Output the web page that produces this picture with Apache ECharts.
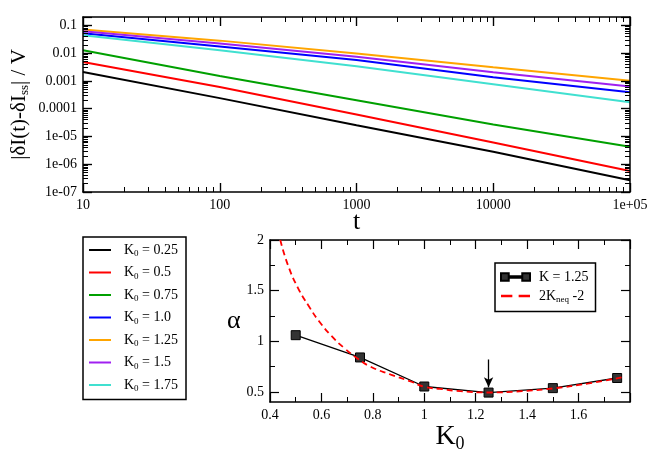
<!DOCTYPE html>
<html>
<head>
<meta charset="utf-8">
<script src="https://cdn.jsdelivr.net/npm/echarts@6/dist/echarts.min.js"></script>
<style>
html, body { margin: 0; padding: 0; background: #fff; }
#chart { width: 652px; height: 456px; }
</style>
</head>
<body>
<div id="chart"></div>
<script>
// top panel: |dI(t)-dI_ss| / V against t, one curve per K0
var times = [10, 100, 1000, 10000, 100000];
var curveK025 = [2.09e-3, 2.40e-4, 2.51e-5, 2.82e-6, 2.63e-7];
var curveK05  = [4.79e-3, 6.03e-4, 6.17e-5, 6.03e-6, 5.75e-7];
var curveK075 = [1.26e-2, 1.51e-3, 2.00e-4, 2.69e-5, 4.27e-6];
var curveK10  = [5.25e-2, 1.74e-2, 5.62e-3, 1.35e-3, 3.89e-4];
var curveK125 = [7.08e-2, 2.82e-2, 9.77e-3, 3.09e-3, 1.02e-3];
var curveK15  = [6.17e-2, 2.24e-2, 7.41e-3, 2.04e-3, 6.31e-4];
var curveK175 = [4.37e-2, 1.26e-2, 3.39e-3, 7.59e-4, 1.70e-4];
var k0Names = ['0.25', '0.5', '0.75', '1.0', '1.25', '1.5', '1.75'];
var lineColors = ['#000000', '#ff0000', '#00a000', '#0000ff', '#ffa500', '#a020f0', '#40e0d0'];

var tTickExps = [1, 2, 3, 4, 5];
var tTickLabels = ['10', '100', '1000', '10000', '1e+05'];
var yTickExps = [-7, -6, -5, -4, -3, -2, -1];
var yTickLabels = ['1e-07', '1e-06', '1e-05', '0.0001', '0.001', '0.01', '0.1'];
var yTopMax = 0.2;

// bottom panel: alpha against K0
var alphaK0 = [0.5, 0.75, 1.0, 1.25, 1.5, 1.75];
var alphaVals = [1.06, 0.84, 0.553, 0.493, 0.537, 0.637];
var neqK0 = [0.44, 0.47, 0.51, 0.55, 0.59, 0.64, 0.69, 0.74, 0.79, 0.87, 0.95, 1.0, 1.06, 1.14, 1.25, 1.38, 1.5, 1.64, 1.78];
var neqAlpha = [2.0, 1.75, 1.52, 1.35, 1.2, 1.05, 0.93, 0.83, 0.75, 0.67, 0.6, 0.55, 0.53, 0.507, 0.494, 0.507, 0.534, 0.584, 0.65];
var kTickValues = [0.4, 0.6, 0.8, 1, 1.2, 1.4, 1.6];
var alphaTicks = [0.5, 1, 1.5, 2];
var alphaMinorTicks = [0.75, 1.25, 1.75];
var arrowK = 1.25, arrowFrom = 0.82, arrowTo = 0.545;

var serif = 'Liberation Serif';
var curves = [curveK025, curveK05, curveK075, curveK10, curveK125, curveK15, curveK175];

function expLabel(exps, labels) {
  return function (v) {
    var e = Math.log10(v), r = Math.round(e);
    if (Math.abs(e - r) > 0.01) return '';
    var i = exps.indexOf(r);
    return i < 0 ? '' : labels[i];
  };
}

// log minor tick positions (2..9 in each decade), in decade units
function minorExps(lo, hi) {
  var out = [];
  for (var d = Math.floor(lo); d < hi; d++) {
    for (var m = 2; m <= 9; m++) {
      var p = d + Math.log10(m);
      if (p > lo && p < hi) out.push(p);
    }
  }
  return out;
}

function frame(o) {
  var base = {
    axisLine: { show: true, onZero: false, lineStyle: { color: '#000', width: 1.5 } },
    axisTick: { show: true, inside: true, length: 9, lineStyle: { color: '#000', width: 1.2 } },
    splitLine: { show: false },
    axisLabel: { show: false, margin: 6, fontFamily: serif, fontSize: 14, color: '#000' }
  };
  for (var k in o) {
    if (base[k] && typeof o[k] === 'object' && !Array.isArray(o[k])) {
      base[k] = Object.assign({}, base[k], o[k]);
    } else {
      base[k] = o[k];
    }
  }
  return base;
}

// tick-only axis laid over a frame
function tickAxis(grid, pos, min, max, values, len, width) {
  return frame({
    type: 'value', gridIndex: grid, position: pos, min: min, max: max, z: 5,
    axisLine: { show: false },
    axisTick: { customValues: values, length: len, lineStyle: { color: '#000', width: width } }
  });
}

var series = curves.map(function (vals, i) {
  return {
    name: k0Names[i],
    type: 'line',
    xAxisIndex: 0,
    yAxisIndex: 0,
    symbol: 'none',
    color: lineColors[i],
    lineStyle: { width: 2, color: lineColors[i] },
    data: times.map(function (t, j) { return [t, vals[j]]; })
  };
});

series.push({
  name: 'K = 1.25',
  type: 'line',
  xAxisIndex: 2,
  yAxisIndex: 2,
  symbol: 'rect',
  symbolSize: 9,
  color: '#333',
  itemStyle: { color: '#333', borderColor: '#000', borderWidth: 1 },
  lineStyle: { color: '#000', width: 1.3 },
  z: 3,
  data: alphaK0.map(function (k, i) { return [k, alphaVals[i]]; }),
  markLine: {
    silent: true,
    symbol: ['none', 'arrow'],
    symbolSize: [7, 10],
    label: { show: false },
    lineStyle: { color: '#000', width: 1.3, type: 'solid' },
    data: [[{ coord: [arrowK, arrowFrom] }, { coord: [arrowK, arrowTo] }]]
  }
});
series.push({
  name: '2Kneq -2',
  type: 'line',
  xAxisIndex: 2,
  yAxisIndex: 2,
  smooth: true,
  symbol: 'none',
  color: '#ff0000',
  lineStyle: { color: '#ff0000', width: 1.8, type: [6, 4] },
  z: 4,
  data: neqK0.map(function (k, i) { return [k, neqAlpha[i]]; })
});

var tLo = Math.log10(times[0]), tHi = Math.log10(times[times.length - 1]);
var yLo = yTickExps[0], yHi = Math.log10(yTopMax);
var tMinor = minorExps(tLo, tHi);
var yMinor = minorExps(yLo, yHi);

var chart = echarts.init(document.getElementById('chart'));
chart.setOption({
  animation: false,
  backgroundColor: '#fff',
  grid: [
    { left: 83, top: 17, width: 547, height: 175 },
    { left: 270, top: 240, width: 360, height: 162 }
  ],
  xAxis: [
    frame({
      type: 'log', logBase: 10, gridIndex: 0, position: 'bottom', min: 10, max: 100000, z: 5,
      axisLabel: { show: true, formatter: expLabel(tTickExps, tTickLabels) },
      name: 't', nameLocation: 'middle', nameGap: 17, nameMoveOverlap: false,
      nameTextStyle: { fontFamily: serif, fontSize: 26, color: '#000' }
    }),
    frame({ type: 'log', logBase: 10, gridIndex: 0, position: 'top', min: 10, max: 100000, z: 5 }),
    frame({
      type: 'value', gridIndex: 1, position: 'bottom', min: 0.4, max: 1.8, interval: 0.2,
      minorTick: { show: true, splitNumber: 2, length: 5, lineStyle: { color: '#000', width: 1 } },
      axisLabel: { show: true, customValues: kTickValues },
      name: 'K{sub|0}', nameLocation: 'middle', nameGap: 16,
      nameTextStyle: { fontFamily: serif, fontSize: 28, color: '#000',
        rich: { sub: { fontFamily: serif, fontSize: 18, color: '#000', padding: [14, 0, 0, 0] } } }
    }),
    frame({
      type: 'value', gridIndex: 1, position: 'top', min: 0.4, max: 1.8, interval: 0.2,
      minorTick: { show: true, splitNumber: 2, length: 5, lineStyle: { color: '#000', width: 1 } }
    }),
    tickAxis(0, 'bottom', tLo, tHi, tTickExps, 9, 1.2),
    tickAxis(0, 'top', tLo, tHi, tTickExps, 9, 1.2),
    tickAxis(0, 'bottom', tLo, tHi, tMinor, 5, 1),
    tickAxis(0, 'top', tLo, tHi, tMinor, 5, 1)
  ],
  yAxis: [
    frame({
      type: 'log', logBase: 10, gridIndex: 0, position: 'left', min: 1e-7, max: yTopMax, z: 5,
      axisLabel: { show: true, formatter: expLabel(yTickExps, yTickLabels) },
      name: '|δI(t)-δI{sub|ss}| / V', nameLocation: 'middle', nameGap: 52, nameRotate: 90,
      nameMoveOverlap: false,
      nameTextStyle: { fontFamily: serif, fontSize: 21, color: '#000',
        rich: { sub: { fontFamily: serif, fontSize: 13, color: '#000', padding: [10, 0, 0, 0] } } }
    }),
    frame({ type: 'log', logBase: 10, gridIndex: 0, position: 'right', min: 1e-7, max: yTopMax, z: 5 }),
    frame({
      type: 'value', gridIndex: 1, position: 'left', min: 0.4, max: 2,
      axisTick: { customValues: alphaTicks },
      axisLabel: { show: true, customValues: alphaTicks },
      name: 'α', nameLocation: 'middle', nameGap: 28, nameRotate: 0,
      nameTextStyle: { fontFamily: serif, fontSize: 26, color: '#000' }
    }),
    frame({
      type: 'value', gridIndex: 1, position: 'right', min: 0.4, max: 2,
      axisTick: { customValues: alphaTicks }
    }),
    tickAxis(1, 'left', 0.4, 2, alphaMinorTicks, 5, 1),
    tickAxis(1, 'right', 0.4, 2, alphaMinorTicks, 5, 1),
    tickAxis(0, 'left', yLo, yHi, yTickExps, 9, 1.2),
    tickAxis(0, 'right', yLo, yHi, yTickExps, 9, 1.2),
    tickAxis(0, 'left', yLo, yHi, yMinor, 5, 1),
    tickAxis(0, 'right', yLo, yHi, yMinor, 5, 1)
  ],
  legend: [
    {
      data: k0Names.map(function (n) { return { name: n, icon: 'path://M0,0h22v2h-22z' }; }),
      orient: 'vertical',
      left: 83,
      top: 237,
      itemWidth: 22,
      itemHeight: 2,
      itemGap: 7,
      padding: [6, 8, 6, 6],
      borderColor: '#000',
      borderWidth: 1.5,
      backgroundColor: '#fff',
      selectedMode: false,
      formatter: function (n) { return 'K{sub|0} = ' + n; },
      textStyle: {
        fontFamily: serif, fontSize: 14, color: '#000', padding: [0, 0, 0, 8],
        rich: { sub: { fontFamily: serif, fontSize: 9, color: '#000', padding: [8, 0, 0, 0] } }
      }
    },
    {
      data: [
        { name: 'K = 1.25', icon: 'path://M0,0h8v8h-8z M8,3.3h14v1.4h-14z M22,0h8v8h-8z' },
        { name: '2Kneq -2', icon: 'path://M0,0h9v2h-9z M14,0h9v2h-9z' }
      ],
      orient: 'vertical',
      left: 495,
      top: 263,
      itemWidth: 29,
      itemHeight: 9,
      itemGap: 5,
      padding: [7, 7, 7, 5],
      borderColor: '#000',
      borderWidth: 1.5,
      backgroundColor: '#fff',
      selectedMode: false,
      formatter: function (n) { return n === '2Kneq -2' ? '2K{sub|neq} -2' : n; },
      textStyle: {
        fontFamily: serif, fontSize: 14, color: '#000', padding: [0, 0, 0, 4],
        rich: { sub: { fontFamily: serif, fontSize: 9, color: '#000', padding: [8, 0, 0, 0] } }
      }
    }
  ],
  series: series
});
</script>
</body>
</html>
